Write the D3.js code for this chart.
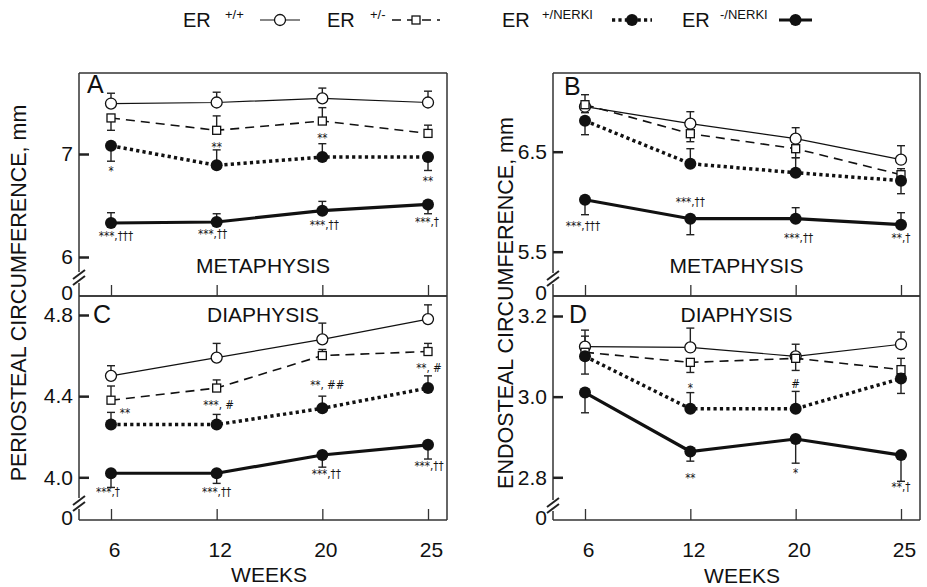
<!DOCTYPE html>
<html><head><meta charset="utf-8">
<script src="https://cdn.jsdelivr.net/npm/d3@7"></script>
<style>
body{margin:0;background:#fff}
svg{display:block}
text{font-family:"Liberation Sans",Arial,Helvetica,sans-serif;fill:#111}
text.ann{font-family:"DejaVu Sans Condensed","DejaVu Sans",sans-serif;fill:#111;opacity:0.99}
</style>
</head><body>
<svg id="c" width="927" height="587"></svg>
<script>
// ---------------- DATA ----------------
const weeks = [6, 12, 20, 25];
const weekLabels = ["6", "12", "20", "25"];
const seriesNames = ["ER", "ER", "ER", "ER"];
const legendSup = ["+/+", "+/-", "+/NERKI", "-/NERKI"];

// signed SEM: positive = bar drawn upward, negative = bar drawn downward
// Panel A – periosteal, metaphysis
const aWT = [7.49, 7.50, 7.54, 7.50],   aWTErr = [0.10, 0.10, 0.10, 0.11];
const aHet = [7.35, 7.23, 7.32, 7.20],  aHetErr = [-0.12, 0.14, 0.13, 0.08];
const aNerki = [7.08, 6.89, 6.97, 6.97], aNerkiErr = [-0.15, 0.15, 0.13, -0.13];
const aNull = [6.33, 6.34, 6.45, 6.51],  aNullErr = [0.10, 0.08, 0.09, -0.09];
// Panel B – endosteal, metaphysis
const bWT = [6.95, 6.78, 6.63, 6.42],   bWTErr = [0.12, 0.12, 0.11, 0.14];
const bHet = [6.97, 6.68, 6.53, 6.27],  bHetErr = [-0.08, -0.08, -0.09, 0.06];
const bNerki = [6.81, 6.38, 6.29, 6.21], bNerkiErr = [-0.14, 0.15, 0.15, -0.13];
const bNull = [6.02, 5.83, 5.83, 5.77],  bNullErr = [-0.15, -0.16, 0.11, 0.12];
// Panel C – periosteal, diaphysis
const cWT = [4.50, 4.59, 4.68, 4.78],   cWTErr = [0.05, 0.07, 0.08, 0.07];
const cHet = [4.38, 4.44, 4.60, 4.62],  cHetErr = [0.07, 0.04, 0.03, 0.04];
const cNerki = [4.26, 4.26, 4.34, 4.44], cNerkiErr = [0.06, 0.05, 0.06, 0.06];
const cNull = [4.02, 4.02, 4.11, 4.16],  cNullErr = [-0.07, -0.05, -0.06, -0.07];
// Panel D – endosteal, diaphysis
const dWT = [3.124, 3.122, 3.100, 3.130], dWTErr = [0.041, 0.048, 0.030, 0.030];
const dHet = [3.110, 3.085, 3.095, 3.067], dHetErr = [0.040, -0.025, -0.030, 0.028];
const dNerki = [3.100, 2.970, 2.970, 3.045], dNerkiErr = [-0.044, 0.040, 0.043, -0.037];
const dNull = [3.010, 2.864, 2.895, 2.855], dNullErr = [-0.050, -0.024, -0.060, -0.065];

// y tick labels
const aTicks = [6, 7], bTicks = [5.5, 6.5], cTicks = [4.0, 4.4, 4.8], dTicks = [2.8, 3.0, 3.2];

// significance annotations: text, week, value (baseline, data units)
const annA = [
  {t:"*", w:6, v:6.796}, {t:"**", w:12, v:7.025}, {t:"**", w:20, v:7.113}, {t:"**", w:25, v:6.70},
  {t:"***,†††", w:6, v:6.165, dx:5}, {t:"***,††", w:12, v:6.184, dx:-4},
  {t:"***,††", w:20, v:6.272, dx:2}, {t:"***,†", w:25, v:6.30, dx:-1}
];
const annB = [
  {t:"***,†††", w:6, v:5.717, dx:-2}, {t:"***,††", w:12, v:5.96},
  {t:"***,††", w:20, v:5.60, dx:3}, {t:"**,†", w:25, v:5.60}
];
const annC = [
  {t:"**", w:6, v:4.297, dx:14}, {t:"***, #", w:12, v:4.335, dx:2},
  {t:"**, ##", w:20, v:4.433, dx:5}, {t:"**, #", w:25, v:4.52, dx:1},
  {t:"***,†", w:6, v:3.908, dx:-3}, {t:"***,††", w:12, v:3.908},
  {t:"***,††", w:20, v:3.995, dx:4}, {t:"***,††", w:25, v:4.036, dx:1}
];
const annD = [
  {t:"*", w:12, v:3.011}, {t:"#", w:20, v:3.022}, {t:"**", w:12, v:2.788},
  {t:"*", w:20, v:2.800}, {t:"**,†", w:25, v:2.767}
];

// ---------------- LAYOUT / STYLE ----------------
const FONT = 21;
const styles = [
  {sw:1.2, dash:null,  marker:"circleOpen"},
  {sw:1.6, dash:"9,6", marker:"square"},
  {sw:3.5, dash:"3.2,3.2", marker:"dot"},
  {sw:3.2, dash:null,  marker:"dot"}
];

const svg = d3.select("#c");

const panels = [
  {letter:"A", x0:79, x1:447, y0:73, y1:296, dom:[6,7], rng:[257,154], ticks:aTicks, fmt:d3.format("d"),
   vals:[aWT,aHet,aNerki,aNull], errs:[aWTErr,aHetErr,aNerkiErr,aNullErr], ann:annA,
   title:"METAPHYSIS", lx:87, ly:93, bk:278, zeroY:293, showX:false},
  {letter:"B", x0:553, x1:920, y0:73, y1:296, dom:[5.5,6.5], rng:[251.7,151.7], ticks:bTicks, fmt:d3.format(".1f"),
   vals:[bWT,bHet,bNerki,bNull], errs:[bWTErr,bHetErr,bNerkiErr,bNullErr], ann:annB,
   title:"METAPHYSIS", lx:564, ly:95, bk:279, zeroY:293, showX:false},
  {letter:"C", x0:79, x1:447, y0:296, y1:520, dom:[4.0,4.8], rng:[477.3,315], ticks:cTicks, fmt:d3.format(".1f"),
   vals:[cWT,cHet,cNerki,cNull], errs:[cWTErr,cHetErr,cNerkiErr,cNullErr], ann:annC,
   title:"DIAPHYSIS", lx:93, ly:323, bk:504, zeroY:518, showX:true, weeksX:269, weeksY:582},
  {letter:"D", x0:553, x1:920, y0:296, y1:520, dom:[2.8,3.2], rng:[477.3,316], ticks:dTicks, fmt:d3.format(".1f"),
   vals:[dWT,dHet,dNerki,dNull], errs:[dWTErr,dHetErr,dNerkiErr,dNullErr], ann:annD,
   title:"DIAPHYSIS", lx:569, ly:323, bk:506, zeroY:518, showX:true, weeksX:742, weeksY:583}
];

function drawMarker(g, type, cx, cy) {
  if (type === "circleOpen") {
    g.append("circle").attr("cx", cx).attr("cy", cy).attr("r", 5.5)
      .attr("fill", "#fff").attr("stroke", "#111").attr("stroke-width", 1.3);
  } else if (type === "square") {
    g.append("rect").attr("x", cx - 4).attr("y", cy - 4).attr("width", 8).attr("height", 8)
      .attr("fill", "#fff").attr("stroke", "#111").attr("stroke-width", 1.3);
  } else {
    g.append("circle").attr("cx", cx).attr("cy", cy).attr("r", 6).attr("fill", "#111");
  }
}

panels.forEach(p => {
  const g = svg.append("g");
  const x = d3.scalePoint().domain(weeks).range([p.x0 + 32, p.x1 - 19]);
  const y = d3.scaleLinear().domain(p.dom).range(p.rng);

  // frame (with break gap on left)
  const fr = g.append("g").attr("stroke", "#333").attr("stroke-width", 1.5).attr("fill", "none");
  fr.append("line").attr("x1", p.x0).attr("x2", p.x1).attr("y1", p.y0).attr("y2", p.y0);
  fr.append("line").attr("x1", p.x0).attr("x2", p.x1).attr("y1", p.y1).attr("y2", p.y1);
  fr.append("line").attr("x1", p.x1).attr("x2", p.x1).attr("y1", p.y0).attr("y2", p.y1);
  fr.append("line").attr("x1", p.x0).attr("x2", p.x0).attr("y1", p.y0).attr("y2", p.bk - 6);
  fr.append("line").attr("x1", p.x0).attr("x2", p.x0).attr("y1", p.bk + 5).attr("y2", p.y1);
  [-3, 3].forEach(o => {
    g.append("line").attr("x1", p.x0 - 6).attr("y1", p.bk + 4 + o)
      .attr("x2", p.x0 + 6).attr("y2", p.bk - 5 + o)
      .attr("stroke", "#222").attr("stroke-width", 2);
  });

  // y axis (inward ticks)
  const ya = g.append("g").attr("transform", `translate(${p.x0},0)`)
    .call(d3.axisLeft(y).tickValues(p.ticks).tickFormat(p.fmt).tickSize(-10).tickPadding(6));
  ya.select(".domain").remove();
  ya.selectAll(".tick line").attr("stroke", "#222").attr("stroke-width", 2.5);
  ya.selectAll(".tick text").attr("font-size", FONT).attr("fill", "#111")
    .attr("font-family", "Liberation Sans, Arial, sans-serif");
  g.append("text").attr("x", p.x0 - 6).attr("y", p.zeroY).attr("dy", "0.35em")
    .attr("text-anchor", "end").attr("font-size", FONT).text("0");

  // x axis ticks (inward)
  const xa = g.append("g").attr("transform", `translate(0,${p.y1})`)
    .call(d3.axisBottom(x).tickSize(-11).tickFormat((d, i) => weekLabels[i]).tickPadding(22));
  xa.select(".domain").remove();
  xa.selectAll(".tick line").attr("stroke", "#333").attr("stroke-width", 1.3);
  xa.selectAll(".tick text").attr("font-size", FONT).attr("fill", "#111").attr("dx", 3)
    .attr("font-family", "Liberation Sans, Arial, sans-serif")
    .style("display", p.showX ? null : "none");
  if (p.showX) {
    g.append("text").attr("x", p.weeksX).attr("y", p.weeksY).attr("text-anchor", "middle")
      .attr("font-size", FONT).text("WEEKS");
  }

  // panel letter & title
  g.append("text").attr("x", p.lx).attr("y", p.ly).attr("font-size", 25).text(p.letter);
  g.append("text").attr("x", (p.x0 + p.x1) / 2).attr("y", p.letter === "A" || p.letter === "B" ? 273 : 322)
    .attr("text-anchor", "middle").attr("font-size", FONT).text(p.title);

  // lines
  const line = d3.line().x((d, i) => x(weeks[i])).y(d => y(d));
  p.vals.forEach((vals, si) => {
    const st = styles[si];
    g.append("path").attr("d", line(vals)).attr("fill", "none").attr("stroke", "#111")
      .attr("stroke-width", st.sw).attr("stroke-dasharray", st.dash);
  });
  // error bars
  p.vals.forEach((vals, si) => {
    vals.forEach((v, i) => {
      const e = p.errs[si][i];
      const cx = x(weeks[i]);
      const ya2 = y(v + e);
      g.append("line").attr("x1", cx).attr("x2", cx).attr("y1", y(v)).attr("y2", ya2)
        .attr("stroke", "#222").attr("stroke-width", 1.4);
      g.append("line").attr("x1", cx - 4).attr("x2", cx + 4).attr("y1", ya2).attr("y2", ya2)
        .attr("stroke", "#222").attr("stroke-width", 1.4);
    });
  });
  // markers
  p.vals.forEach((vals, si) => {
    vals.forEach((v, i) => drawMarker(g, styles[si].marker, x(weeks[i]), y(v)));
  });
  // annotations
  p.ann.forEach(a => {
    g.append("text").attr("class", "ann").attr("x", x(a.w) + (a.dx || 0)).attr("y", y(a.v))
      .attr("text-anchor", "middle").attr("font-size", 11.5).text(a.t);
  });
});

// axis titles
svg.append("text").attr("transform", "translate(26,293) rotate(-90)")
  .attr("text-anchor", "middle").attr("font-size", 21.5).text("PERIOSTEAL CIRCUMFERENCE, mm");
svg.append("text").attr("transform", "translate(513,303) rotate(-90)")
  .attr("text-anchor", "middle").attr("font-size", 21.5).text("ENDOSTEAL CIRCUMFERENCE, mm");

// legend
const legX = [183, 327, 502, 682];
const supX = [225, 370, 542, 720];
const symX = [[260, 300], [392, 440], [612, 652], [779, 812]];
const lg = svg.append("g");
seriesNames.forEach((n, i) => {
  lg.append("text").attr("x", legX[i]).attr("y", 27).attr("font-size", 20).text(n);
  lg.append("text").attr("x", supX[i]).attr("y", 19).attr("font-size", 13).text(legendSup[i]);
  const st = styles[i];
  const [s0, s1] = symX[i];
  lg.append("line").attr("x1", s0).attr("x2", s1).attr("y1", 20).attr("y2", 20)
    .attr("stroke", "#111").attr("stroke-width", st.sw).attr("stroke-dasharray", st.dash);
  drawMarker(lg, st.marker, (s0 + s1) / 2, 20);
});
</script>
</body></html>
